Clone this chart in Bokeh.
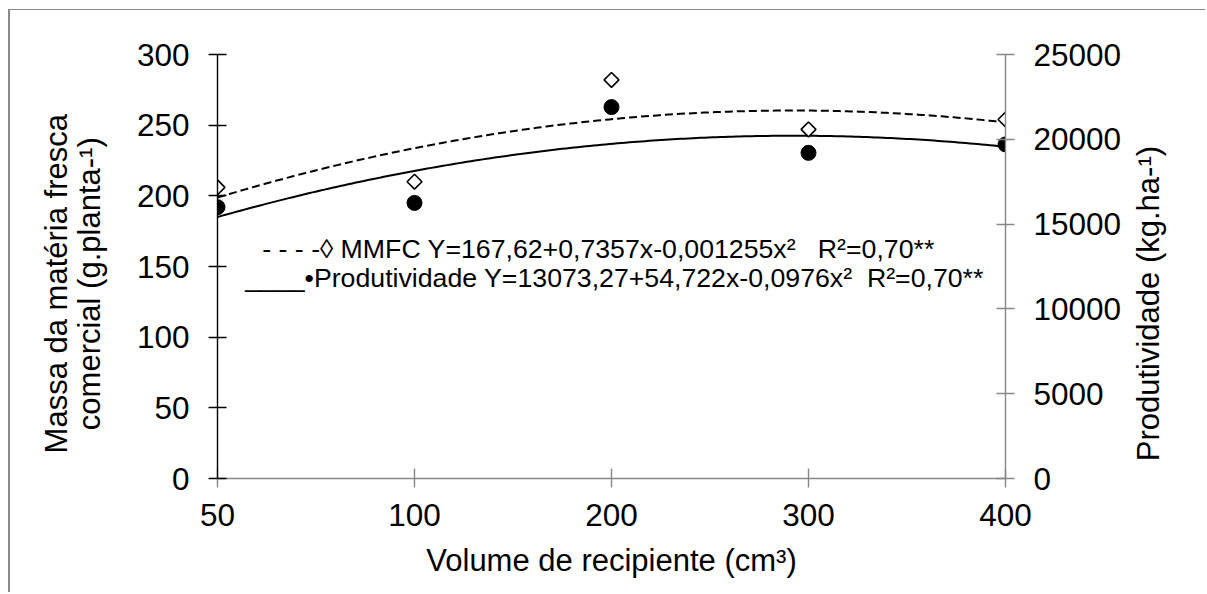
import numpy as np
from bokeh.plotting import figure
from bokeh.models import Range1d, LinearAxis, FixedTicker, Label
from bokeh.embed import file_html
from bokeh.resources import INLINE

# ---- data ----
volumes = ["50", "100", "200", "300", "400"]
mmfc = [206, 210, 282, 247, 254]
produtividade = [16000, 16250, 21900, 19200, 19700]
left_ticks = [0, 50, 100, 150, 200, 250, 300]
right_ticks = [0, 5000, 10000, 15000, 20000, 25000]

NB = "\u00a0"
legend_mmfc = "- - - -\u25ca MMFC Y=167,62+0,7357x-0,001255x\u00b2" + NB * 3 + "R\u00b2=0,70**"
legend_prod = "____\u2022Produtividade Y=13073,27+54,722x-0,0976x\u00b2" + NB * 2 + "R\u00b2=0,70**"
x_title = "Volume de recipiente (cm\u00b3)"
y_title_1 = "Massa da mat\u00e9ria fresca"
y_title_2 = "comercial (g.planta-\u00b9)"
y2_title = "Produtividade (kg.ha-\u00b9)"

# ---- trendlines (quadratic fit over category positions, as in the spreadsheet) ----
idx = list(range(len(volumes)))
fit_m = np.polyfit(idx, mmfc, 2)
fit_p = np.polyfit(idx, produtividade, 2)
xs = np.linspace(0, len(volumes) - 1, 200)

FONT = "Liberation Sans"
GRAY = "#878787"
TICK_FS = "31.5px"
TITLE_FS = "31px"
LEG_FS = "26.7px"

ox, oy = 10, 10  # canvas origin in page px
W, H = 1197, 583
p = figure(width=W, height=H, output_backend="svg", toolbar_location=None,
           x_range=Range1d(0, len(volumes) - 1), y_range=Range1d(0, 300),
           min_border_left=217 - ox, min_border_right=ox + W - 1005,
           min_border_top=54 - oy, min_border_bottom=oy + H - 478)
p.styles = {"margin-left": "10px", "margin-top": "10px", "margin-bottom": "-20px",
            "box-shadow": "-2px -1px 0px 0px #8a8a8a"}
p.extra_y_ranges = {"prod": Range1d(0, 25000)}
p.outline_line_color = None
p.xgrid.visible = False
p.ygrid.visible = False
p.background_fill_color = "white"
p.border_fill_color = "white"

# curves
p.line(xs, np.polyval(fit_m, xs), line_color="black", line_width=2, line_dash="8 4")
p.line(xs, np.polyval(fit_p, xs), line_color="black", line_width=2, y_range_name="prod")
# points
p.scatter(idx, mmfc, marker="square", angle=np.pi / 4, size=10.5,
          fill_color="white", line_color="black", line_width=1.6)
p.scatter(idx, produtividade, marker="circle", size=15, fill_color="black",
          line_color="black", y_range_name="prod")

# axes
xa = p.xaxis[0]
xa.ticker = FixedTicker(ticks=idx)
xa.major_label_overrides = {i: v for i, v in enumerate(volumes)}
ya = p.yaxis[0]
ya.ticker = FixedTicker(ticks=left_ticks)
ra = LinearAxis(y_range_name="prod", ticker=FixedTicker(ticks=right_ticks))
p.add_layout(ra, "right")

for ax, col in ((xa, GRAY), (ya, "black"), (ra, GRAY)):
    ax.axis_line_color = col
    ax.axis_line_width = 1.4
    ax.major_tick_line_color = col
    ax.major_tick_line_width = 1.4
    ax.major_tick_in = 9
    ax.major_tick_out = 9
    ax.minor_tick_line_color = None
    ax.major_label_text_font = FONT
    ax.major_label_text_font_size = TICK_FS
    ax.major_label_text_color = "black"
    ax.axis_label_text_font = FONT
    ax.axis_label_text_font_size = TITLE_FS
    ax.axis_label_text_font_style = "normal"
    ax.axis_label_text_color = "black"
xa.major_tick_in = 10
xa.major_label_standoff = 16
ya.major_label_standoff = 19
ra.major_label_standoff = 19

# axis titles (no-break spaces nudge the titles along their axes)
xa.axis_label = x_title
xa.axis_label_standoff = 14
ya.axis_label = y_title_1 + NB * 4 + "\n" + y_title_2 + NB * 4
ya.axis_label_text_line_height = 0.95
ya.axis_label_standoff = 27
ra.axis_label_standoff = 24

aligned = False
if "axis_label_align" in ra.properties():
    for choice in ("start", "left"):
        try:
            ra.axis_label_align = choice
            aligned = True
            break
        except Exception:
            pass
if aligned:
    ra.axis_label_orientation = np.pi / 2
    ra.axis_label = NB + NB + y2_title
else:
    ra.axis_label = y2_title

def px2x(px):
    return (px - 217.3) / 196.9


def py2y(py):
    return (477.7 - py) / 1.4133


def lab(text, px, py, size):
    p.add_layout(Label(x=px2x(px), y=py2y(py), text=text,
                       text_font=FONT, text_font_size=size, text_color="black",
                       text_align="left", text_baseline="alphabetic"))


lab(legend_mmfc, 262, 248, LEG_FS)
lab(legend_prod, 245, 277, LEG_FS)

open("out.html", "w").write(file_html(p, INLINE))
